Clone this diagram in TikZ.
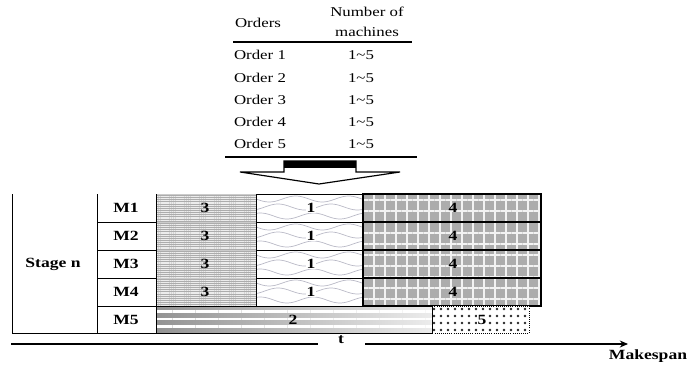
\documentclass[tikz,border=0pt]{standalone}
\usepackage{fontspec}
\setmainfont[FakeStretch=1.25]{Liberation Serif}
\usetikzlibrary{patterns.meta,arrows.meta}

\begin{document}
\begin{tikzpicture}[x=0.03cm, y=-0.03cm,
		tbl/.style={font=\fontsize{11.5}{17}\selectfont},
		lbl/.style={font=\fontsize{12}{12}\selectfont\bfseries},
		wave/.style={color=blue!10!gray!50, line width=0.6pt},
		rule/.style={line width=1.2pt},
		frame/.style={line width=0.8pt}]
			%%%%% START %%%%%
			\useasboundingbox (0, 0) rectangle (692, 365);
			
			% orders table
			\node[tbl] (hdOrd) at (258, 23) {Orders};
			\node[tbl, align=center] (hdMac) at (367, 22) {Number of\\machines};
			\draw[rule] (233, 42) -- (412, 42);
			\foreach \i/\y in {1/55, 2/78, 3/100, 4/122, 5/144} {
				\node[tbl] (ord\i) at (260, \y) {Order \i};
				\node[tbl] (mac\i) at (361, \y) {1\textasciitilde5};
			}
			\draw[rule] (225, 157) -- (417, 157);
			
			% block arrow
			\draw[line width=1pt, fill=white] (284, 161) -- (356, 161) -- (356, 172) -- (400, 172)
				-- (319, 184) -- (240, 172) -- (284, 172) -- cycle;
			\fill[black] (284, 161) rectangle (356, 168);
			
			% order 3 on M1..M4
			\foreach \r in {0, ..., 3} {
				\pgfmathsetmacro{\y}{194 + 28*\r}
				\fill[gray!65] (156, \y) rectangle (256, \y + 28);
				\path[pattern={Lines[angle=0, distance=1.6pt, line width=0.5pt]}, pattern color=white!85!gray]
					(156, \y) rectangle (256, \y + 28);
				\draw[gray!40, line width=0.4pt] (156, \y) rectangle (256, \y + 28);
				\node[lbl] (job3r\r) at (205, \y + 14) {3};
			}
			
			% order 1 on M1..M4
			\foreach \r in {0, ..., 3} {
				\pgfmathsetmacro{\y}{194 + 28*\r}
				\foreach \dy/\ph in {5/0, 13/120, 22/240} {
					\draw[wave] plot[domain=256:363, samples=45, smooth]
						(\x, {\y + \dy + 3*sin((\x - 256)*6.8 + \ph)});
				}
				\draw[frame] (256, \y) rectangle (363, \y + 28);
				\node[lbl, fill=white, inner sep=0.5pt] (job1r\r) at (311, \y + 14) {1};
			}
			
			% order 4 on M1..M4
			\foreach \r in {0, ..., 3} {
				\pgfmathsetmacro{\y}{194 + 28*\r}
				\fill[gray!65] (363, \y) rectangle (541, \y + 28);
				\path[pattern={Hatch[angle=0, distance=3.3mm, line width=1.3pt]}, pattern color=white!90!gray]
					(363, \y) rectangle (541, \y + 28);
				\draw[line width=1pt] (363, \y) rectangle (541, \y + 28);
				\node[lbl] (job4r\r) at (453, \y + 14) {4};
			}
			
			% M5: order 2 and order 5
			\shade[left color=gray!85, right color=gray!15] (156, 306) rectangle (432, 333);
			\path[pattern={Lines[angle=0, distance=2.3mm, line width=2pt]}, pattern color=white]
				(156, 306) rectangle (432, 333);
			\draw[frame] (156, 306) rectangle (432, 333);
			\node[lbl] (job2) at (293, 320) {2};
			\fill[white] (432, 306) rectangle (529, 333);
			\path[pattern={Dots[radius=1.2pt, distance=2.1mm]}, pattern color=black!85]
				(432, 306) rectangle (529, 333);
			\draw[frame, densely dotted] (432, 306) rectangle (529, 333);
			\draw[frame] (432, 306) -- (432, 333);
			\node[lbl, fill=white, inner sep=0.5pt] (job5) at (482, 320) {5};
			
			% stage / machine columns
			\draw[frame] (12, 194) -- (12, 333) -- (156, 333);
			\draw[frame] (97, 194) -- (97, 333);
			\draw[frame] (156, 194) -- (156, 333);
			\foreach \y in {222, 250, 278, 306} {
				\draw[frame] (97, \y) -- (156, \y);
			}
			\node[lbl] (stage) at (53, 264) {Stage n};
			\foreach \m in {1, ..., 5} {
				\node[lbl] (mach\m) at (126, {180 + 28*\m}) {M\m};
			}
			
			% time axis
			\coordinate (axA) at (11, 344);
			\coordinate (axB) at (318, 344);
			\coordinate (axC) at (365, 344);
			\coordinate (axD) at (628, 344);
			\node[lbl] (tlbl) at (341, 340) {t};
			\node[lbl] (mspan) at (648, 356) {Makespan};
			\draw[line width=1.6pt] (axA) -- (axB);
			\draw[line width=1.6pt, -{Stealth[length=7pt, width=6pt]}] (axC) -- (axD);
			
			%%%%% END %%%%%
\end{tikzpicture}
\end{document}
